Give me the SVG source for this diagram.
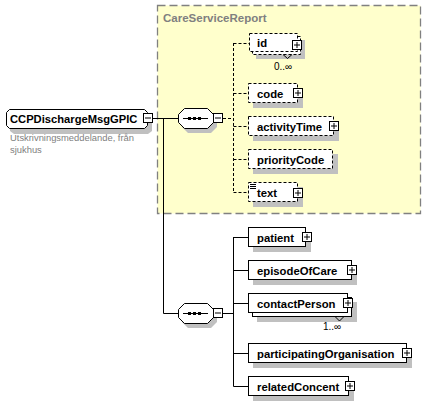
<svg xmlns="http://www.w3.org/2000/svg" width="427" height="402" viewBox="0 0 427 402">
<style>
.lbl{font-family:"Liberation Sans",Arial,sans-serif;font-weight:bold;font-size:11.3px;fill:#000}
.desc{font-family:"Liberation Sans",Arial,sans-serif;font-size:9.4px;fill:#808080}
.mult{font-family:"Liberation Sans",Arial,sans-serif;font-size:10px;fill:#000}
.shadow{fill:#c0c0c0;stroke:none}
.box{fill:#fff;stroke:#000;stroke-width:1}
.opt{fill:#fff;stroke:#000;stroke-width:1;stroke-dasharray:3,2}
.btn{fill:#fff;stroke:#000;stroke-width:1}
.sign{stroke:#000;stroke-width:1;fill:none}
.conn{stroke:#000;stroke-width:1;fill:none}
.dconn{stroke:#000;stroke-width:1;fill:none;stroke-dasharray:3,2}
</style>
<defs>
<g id="plus"><rect class="btn" x="0.5" y="0.5" width="9" height="9"/><path class="sign" d="M2 5H8M5 2V8"/></g>
<g id="minus"><rect class="btn" x="0.5" y="0.5" width="9" height="9"/><path class="sign" d="M2 5H8"/></g>
</defs>
<g id="CareServiceReport">
<rect x="157.5" y="5.5" width="263" height="208" fill="#ffffcc" stroke="#808080" stroke-width="1.3" stroke-dasharray="8,4"/>
<text x="163" y="21.5" class="lbl" style="fill:#808080;font-size:11.5px">CareServiceReport</text>
</g>
<g id="connectors">
<path class="conn" d="M153 118.5H178M163.5 118.5V313.5H178"/>
<path class="dconn" d="M223 118.5H233.5M233.5 43V192.5M233.5 43.5H249M233.5 93.5H248M233.5 126.5H248M233.5 159.5H248M233.5 192.5H248"/>
<path class="conn" d="M223 313.5H233.5M233.5 237V386.5M233.5 237.5H248M233.5 270.5H248M233.5 303.5H248M233.5 353.5H248M233.5 386.5H248"/>
</g>
<g id="root">
<polygon class="shadow" points="14,114 148,114 152,118 152,131 148,134 14,134 10,131 10,118"/>
<polygon class="box" points="9.5,109.5 144.5,109.5 147.5,112.5 147.5,125.5 144.5,128.5 9.5,128.5 6.5,125.5 6.5,112.5"/>
<text x="10" y="122.5" class="lbl" style="font-size:11.2px">CCPDischargeMsgGPIC</text>
<use href="#minus" x="143" y="113"/>
<text x="10" y="141" class="desc">Utskrivningsmeddelande, från</text>
<text x="10" y="153" class="desc">sjukhus</text>
</g>
<g id="seq1">
<polygon class="shadow" points="188,112 211,112 217,118 217,127 211,133 188,133 182,127 182,118"/>
<polygon class="box" points="184.5,108.5 207.5,108.5 213.5,114.5 213.5,122.5 207.5,128.5 184.5,128.5 178.5,122.5 178.5,114.5"/>
<path class="conn" d="M183 118.5H208"/>
<rect x="188" y="117" width="3" height="3"/><rect x="193" y="117" width="3" height="3"/><rect x="198" y="117" width="3" height="3"/>
<use href="#minus" x="213" y="113"/>
</g>
<g id="seq2">
<polygon class="shadow" points="188,307 211,307 217,313 217,322 211,328 188,328 182,322 182,313"/>
<polygon class="box" points="184.5,303.5 207.5,303.5 213.5,309.5 213.5,317.5 207.5,323.5 184.5,323.5 178.5,317.5 178.5,309.5"/>
<path class="conn" d="M183 313.5H208"/>
<rect x="188" y="312" width="3" height="3"/><rect x="193" y="312" width="3" height="3"/><rect x="198" y="312" width="3" height="3"/>
<use href="#minus" x="213" y="308"/>
</g>
<g id="id">
<rect class="shadow" x="256" y="40" width="49" height="19"/>
<rect class="opt" x="252.5" y="36.5" width="48" height="18"/>
<rect class="opt" x="249.5" y="33.5" width="48" height="18"/>
<text x="257" y="47" class="lbl">id</text>
<use href="#plus" x="292" y="40"/>
<path class="conn" d="M283 54.5L287.5 58.5L292 54.5"/>
<text x="274" y="70" class="mult">0..∞</text>
</g>
<g id="code">
<rect class="shadow" x="253" y="88" width="50" height="20"/>
<rect class="opt" x="248.5" y="83.5" width="49" height="19"/>
<text x="257" y="97.5" class="lbl">code</text>
<use href="#plus" x="293" y="88"/>
</g>
<g id="activityTime">
<rect class="shadow" x="253" y="121" width="86" height="20"/>
<rect class="opt" x="248.5" y="116.5" width="85" height="19"/>
<text x="257" y="130.5" class="lbl">activityTime</text>
<use href="#plus" x="329" y="121"/>
</g>
<g id="priorityCode">
<rect class="shadow" x="253" y="154" width="85" height="20"/>
<rect class="opt" x="248.5" y="149.5" width="84" height="19"/>
<text x="257" y="163.5" class="lbl">priorityCode</text>
</g>
<g id="text">
<rect class="shadow" x="253" y="187" width="50" height="20"/>
<rect class="opt" x="248.5" y="182.5" width="49" height="19"/>
<path class="conn" d="M250 184.5H256M250 186.5H256M250 188.5H256"/>
<text x="257" y="196.5" class="lbl">text</text>
<use href="#plus" x="293" y="188"/>
</g>
<g id="patient">
<rect class="shadow" x="253" y="232" width="58" height="20"/>
<rect class="box" x="248.5" y="227.5" width="57" height="19"/>
<text x="257" y="241.5" class="lbl">patient</text>
<use href="#plus" x="302" y="232"/>
</g>
<g id="episodeOfCare">
<rect class="shadow" x="253" y="265" width="104" height="20"/>
<rect class="box" x="248.5" y="260.5" width="103" height="19"/>
<text x="257" y="274.5" class="lbl">episodeOfCare</text>
<use href="#plus" x="347" y="265"/>
</g>
<g id="contactPerson">
<rect class="shadow" x="257" y="302" width="100" height="20"/>
<rect class="box" x="252.5" y="297.5" width="99" height="19"/>
<rect class="box" x="248.5" y="293.5" width="99" height="19"/>
<text x="257" y="307.5" class="lbl">contactPerson</text>
<use href="#plus" x="343" y="298"/>
<path class="conn" d="M335 316.5L339.5 321L344 316.5"/>
<text x="323" y="330" class="mult">1..∞</text>
</g>
<g id="participatingOrganisation">
<rect class="shadow" x="253" y="348" width="159" height="20"/>
<rect class="box" x="248.5" y="343.5" width="158" height="19"/>
<text x="257" y="357.5" class="lbl">participatingOrganisation</text>
<use href="#plus" x="402" y="348"/>
</g>
<g id="relatedConcent">
<rect class="shadow" x="253" y="381" width="101" height="20"/>
<rect class="box" x="248.5" y="376.5" width="100" height="19"/>
<text x="257" y="390.5" class="lbl">relatedConcent</text>
<use href="#plus" x="345" y="381"/>
</g>
</svg>
